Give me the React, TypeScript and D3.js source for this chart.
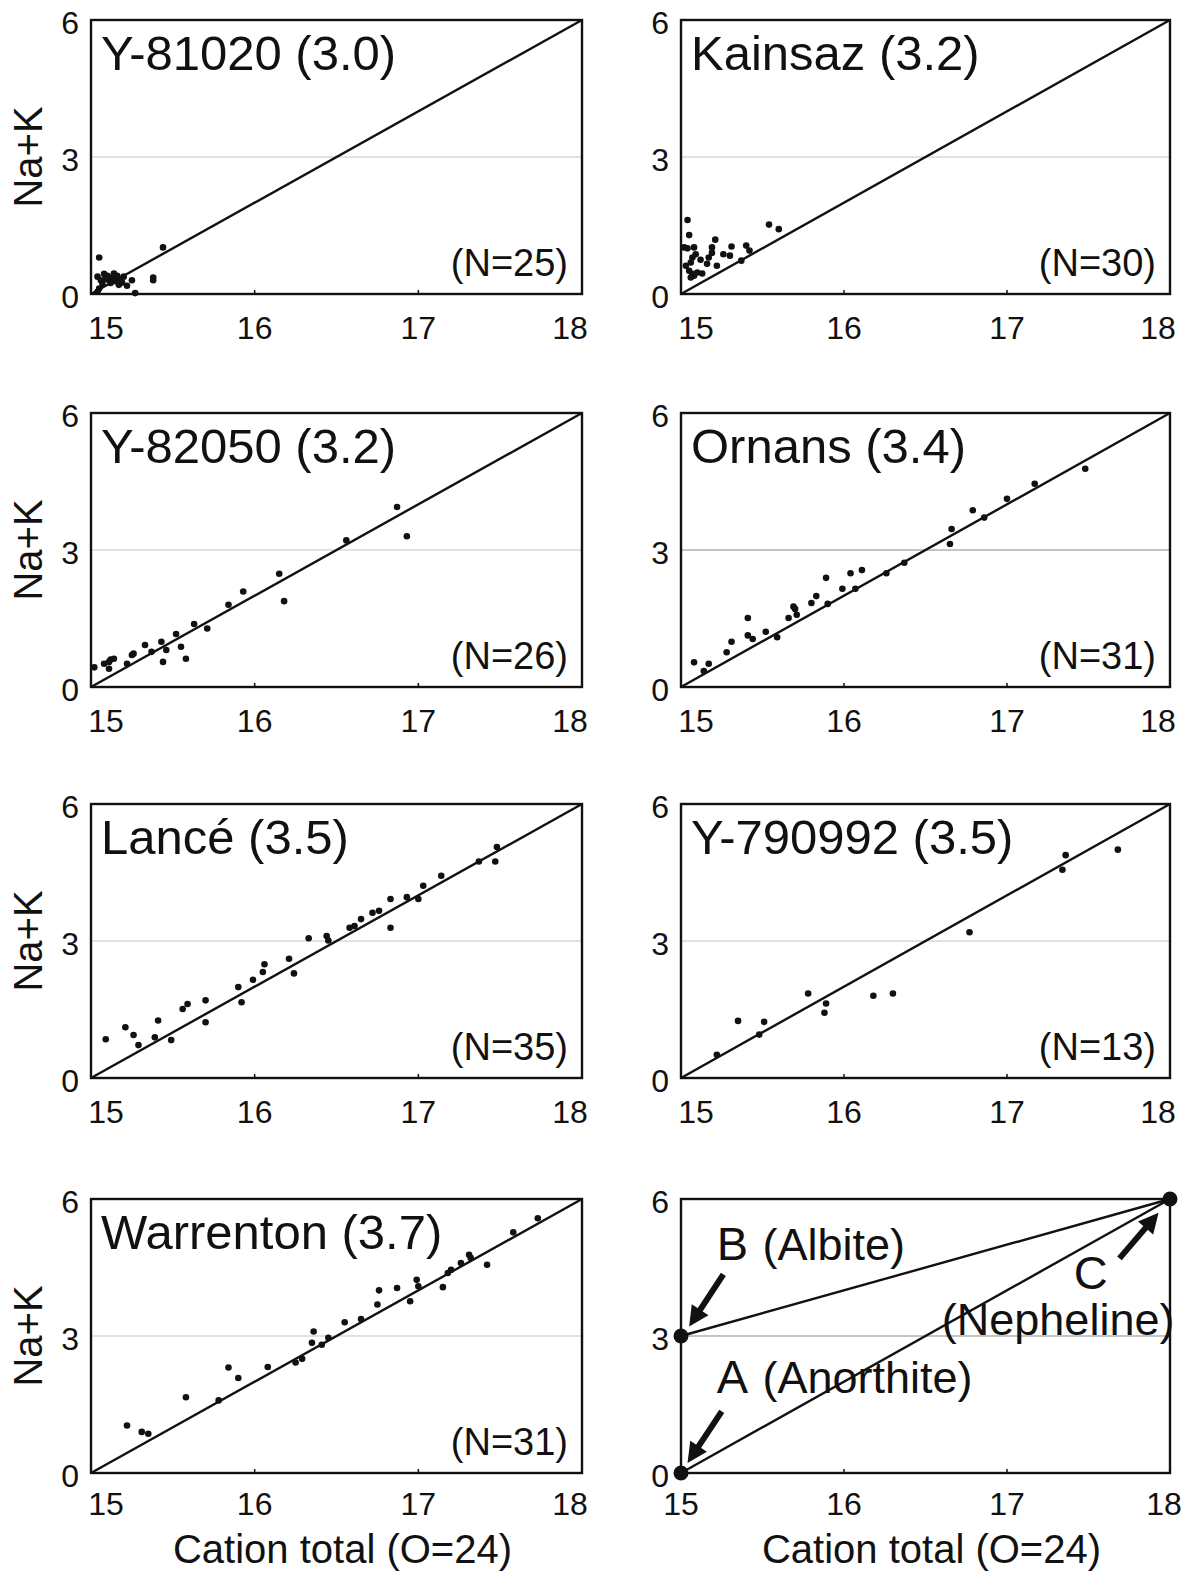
import React, { useRef, useEffect } from 'react';
import * as d3 from 'd3';

type Pt = [number, number];

// cation total (O=24) vs Na+K
const y81020: Pt[] = [
    [15.05, 0.8], [15.44, 1.02], [15.38, 0.3], [15.38, 0.36], [15.25, 0.3],
    [15.27, 0.02], [15.22, 0.18], [15.04, 0.38], [15.06, 0.3], [15.08, 0.44],
    [15.1, 0.4], [15.11, 0.3], [15.13, 0.36], [15.15, 0.28], [15.16, 0.4],
    [15.18, 0.33], [15.19, 0.25], [15.07, 0.22], [15.05, 0.12], [15.04, 0.05],
    [15.12, 0.24], [15.09, 0.33], [15.17, 0.2], [15.14, 0.45], [15.2, 0.38],
];
const kainsaz: Pt[] = [
    [15.04, 1.62], [15.05, 1.29], [15.02, 1.02], [15.04, 1.0], [15.08, 1.02],
    [15.09, 0.87], [15.07, 0.8], [15.03, 0.62], [15.06, 0.69], [15.05, 0.51],
    [15.07, 0.44], [15.08, 0.4], [15.1, 0.47], [15.13, 0.45], [15.06, 0.36],
    [15.16, 0.66], [15.17, 0.8], [15.19, 1.02], [15.21, 1.19], [15.22, 0.62],
    [15.26, 0.87], [15.3, 0.84], [15.31, 1.04], [15.37, 0.73], [15.4, 1.06],
    [15.42, 0.95], [15.54, 1.52], [15.6, 1.42], [15.19, 0.9], [15.12, 0.75],
];
const y82050: Pt[] = [
    [15.02, 0.43], [15.11, 0.55], [15.12, 0.6], [15.14, 0.62], [15.11, 0.4],
    [15.08, 0.51], [15.22, 0.51], [15.25, 0.7], [15.26, 0.73], [15.33, 0.92],
    [15.37, 0.77], [15.43, 0.99], [15.44, 0.55], [15.46, 0.81], [15.52, 1.16],
    [15.55, 0.88], [15.58, 0.62], [15.63, 1.38], [15.71, 1.28], [15.84, 1.8],
    [15.93, 2.09], [16.15, 2.48], [16.18, 1.88], [16.56, 3.21], [16.87, 3.94],
    [16.93, 3.3],
];
const ornans: Pt[] = [
    [15.08, 0.54], [15.14, 0.35], [15.17, 0.51], [15.28, 0.76], [15.31, 0.99],
    [15.41, 1.51], [15.41, 1.13], [15.44, 1.05], [15.52, 1.21], [15.59, 1.09],
    [15.66, 1.51], [15.69, 1.76], [15.7, 1.71], [15.71, 1.58], [15.8, 1.84],
    [15.83, 1.99], [15.89, 2.39], [15.9, 1.82], [15.99, 2.15], [16.04, 2.49],
    [16.07, 2.15], [16.11, 2.56], [16.26, 2.49], [16.37, 2.72], [16.65, 3.13],
    [16.66, 3.46], [16.79, 3.87], [16.86, 3.71], [17.0, 4.12], [17.17, 4.45],
    [17.48, 4.78],
];
const lance: Pt[] = [
    [15.09, 0.85], [15.21, 1.11], [15.26, 0.94], [15.29, 0.72], [15.39, 0.89],
    [15.41, 1.26], [15.49, 0.83], [15.56, 1.51], [15.59, 1.62], [15.7, 1.7],
    [15.7, 1.22], [15.9, 1.99], [15.92, 1.66], [15.99, 2.15], [16.05, 2.32],
    [16.06, 2.49], [16.21, 2.61], [16.24, 2.29], [16.33, 3.06], [16.44, 3.11],
    [16.45, 3.01], [16.58, 3.29], [16.61, 3.33], [16.65, 3.48], [16.72, 3.62],
    [16.76, 3.66], [16.83, 3.92], [16.83, 3.29], [16.93, 3.96], [17.0, 3.92],
    [17.03, 4.21], [17.14, 4.43], [17.37, 4.74], [17.47, 4.74], [17.48, 5.06],
];
const y790992: Pt[] = [
    [15.22, 0.51], [15.35, 1.25], [15.48, 0.95], [15.51, 1.23], [15.78, 1.85],
    [15.89, 1.63], [15.88, 1.43], [16.18, 1.8], [16.3, 1.85], [16.77, 3.19],
    [17.34, 4.56], [17.36, 4.88], [17.68, 5.0],
];
const warrenton: Pt[] = [
    [15.22, 1.04], [15.31, 0.9], [15.35, 0.86], [15.58, 1.66], [15.78, 1.59],
    [15.84, 2.31], [15.9, 2.08], [16.08, 2.32], [16.25, 2.42], [16.29, 2.5],
    [16.36, 3.1], [16.35, 2.85], [16.41, 2.81], [16.45, 2.96], [16.55, 3.3],
    [16.65, 3.37], [16.76, 4.0], [16.75, 3.69], [16.87, 4.05], [16.95, 3.76],
    [16.99, 4.23], [17.0, 4.09], [17.15, 4.07], [17.18, 4.38], [17.2, 4.45],
    [17.26, 4.6], [17.31, 4.78], [17.32, 4.71], [17.42, 4.56], [17.58, 5.27],
    [17.73, 5.58],
];

const panelTitles = [
    'Y-81020 (3.0)', 'Kainsaz (3.2)', 'Y-82050 (3.2)', 'Ornans (3.4)',
    'Lancé (3.5)', 'Y-790992 (3.5)', 'Warrenton (3.7)',
];
const panelData = [y81020, kainsaz, y82050, ornans, lance, y790992, warrenton];

const xTicks = [15, 16, 17, 18];
const yTicks = [0, 3, 6];

// end members for the last panel
const endLetters = ['A', 'B', 'C'];
const endNames = ['(Anorthite)', '(Albite)', '(Nepheline)'];
const endX = [15, 15, 18];
const endY = [0, 3, 6];
// where the labels sit (data units) and the arrows (tail -> head)
const letterPos: Pt[] = [[15.22, 1.75], [15.22, 4.67], [17.41, 4.04]];
const namePos: Pt[] = [[15.5, 1.75], [15.5, 4.67], [16.6, 3.03]];
const arrowTail: Pt[] = [[15.25, 1.35], [15.26, 4.35], [17.69, 4.7]];
const arrowHead: Pt[] = [[15.04, 0.22], [15.05, 3.21], [17.93, 5.7]];

const FONT = '"Liberation Sans", Arial, sans-serif';
const INK = '#111';

export default function App() {
    const svgRef = useRef<SVGSVGElement>(null);

    const width = 1188;
    const height = 1574;
    const colX = [91, 681];
    const colW = [491, 489];
    const rowY = [20, 413, 804, 1199];
    const boxH = 274;

    useEffect(() => {
        const svg = d3.select(svgRef.current);
        svg.selectAll('*').remove(); // Clear previous content

        svg.append('rect').attr('width', width).attr('height', height).attr('fill', '#fff');

        for (let i = 0; i < 8; i++) {
            const col = i % 2;
            const row = Math.floor(i / 2);
            const w = colW[col];
            const x = d3.scaleLinear().domain([15, 18]).range([0, w]);
            const y = d3.scaleLinear().domain([0, 6]).range([boxH, 0]);
            const g = svg.append('g').attr('transform', `translate(${colX[col]},${rowY[row]})`);
            const last = i === 7;

            // y = 3 guide
            g.append('line')
                .attr('x1', 0).attr('x2', w)
                .attr('y1', y(3)).attr('y2', y(3))
                .attr('stroke', i === 3 || last ? '#8a8a8a' : '#c4c4c4')
                .attr('stroke-width', 1.2);

            // tick marks inside the bottom edge
            g.selectAll('line.tick')
                .data(xTicks.slice(1, -1))
                .enter()
                .append('line')
                .attr('x1', d => x(d)).attr('x2', d => x(d))
                .attr('y1', boxH).attr('y2', boxH - 4)
                .attr('stroke', INK).attr('stroke-width', 1.5);

            const line = d3.line<Pt>().x(d => x(d[0])).y(d => y(d[1]));
            g.append('path')
                .attr('d', line([[15, 0], [18, 6]]))
                .attr('stroke', INK).attr('stroke-width', 2.4).attr('fill', 'none');

            if (!last) {
                g.selectAll('circle')
                    .data(panelData[i])
                    .enter()
                    .append('circle')
                    .attr('cx', d => x(d[0]))
                    .attr('cy', d => y(d[1]))
                    .attr('r', 3.3)
                    .attr('fill', INK);

                g.append('text')
                    .attr('x', 10).attr('y', 50)
                    .attr('font-size', 49)
                    .text(panelTitles[i]);

                g.append('text')
                    .attr('x', w - 14).attr('y', boxH - 18)
                    .attr('text-anchor', 'end')
                    .attr('font-size', 38)
                    .text(`(N=${panelData[i].length})`);
            } else {
                g.append('path')
                    .attr('d', line([[15, 3], [18, 6]]))
                    .attr('stroke', INK).attr('stroke-width', 2.4).attr('fill', 'none');

                endLetters.forEach((k, j) => {
                    g.append('text')
                        .attr('x', x(letterPos[j][0])).attr('y', y(letterPos[j][1]))
                        .attr('font-size', 47)
                        .text(k);
                    g.append('text')
                        .attr('x', x(namePos[j][0])).attr('y', y(namePos[j][1]))
                        .attr('font-size', 45)
                        .text(endNames[j]);

                    // arrow
                    const tx = x(arrowTail[j][0]), ty = y(arrowTail[j][1]);
                    const hx = x(arrowHead[j][0]), hy = y(arrowHead[j][1]);
                    const len = Math.hypot(hx - tx, hy - ty);
                    const ux = (hx - tx) / len, uy = (hy - ty) / len;
                    const nx = -uy, ny = ux;
                    const hl = 20, hw = 10;
                    g.append('line')
                        .attr('x1', tx).attr('y1', ty)
                        .attr('x2', hx - ux * hl * 0.8).attr('y2', hy - uy * hl * 0.8)
                        .attr('stroke', INK).attr('stroke-width', 6);
                    g.append('path')
                        .attr('d', `M${hx},${hy}L${hx - ux * hl + nx * hw},${hy - uy * hl + ny * hw}L${hx - ux * hl - nx * hw},${hy - uy * hl - ny * hw}Z`)
                        .attr('fill', INK);
                });

                g.selectAll('circle')
                    .data(endX.map((d, j) => [d, endY[j]] as Pt))
                    .enter()
                    .append('circle')
                    .attr('cx', d => x(d[0]))
                    .attr('cy', d => y(d[1]))
                    .attr('r', 7.5)
                    .attr('fill', INK);
            }

            // frame
            g.append('rect')
                .attr('width', w).attr('height', boxH)
                .attr('fill', 'none').attr('stroke', INK).attr('stroke-width', 2.4);

            // y tick labels
            g.selectAll('text.yt')
                .data(yTicks)
                .enter()
                .append('text')
                .attr('x', -12)
                .attr('y', d => y(d) + 14)
                .attr('text-anchor', 'end')
                .attr('font-size', 32)
                .text(d => d);

            // x tick labels (edge labels pulled inward like the original)
            const shiftL = last ? 0 : 15;
            const shiftR = last ? -6 : -12;
            g.selectAll('text.xt')
                .data(xTicks)
                .enter()
                .append('text')
                .attr('x', (d, k) => x(d) + (k === 0 ? shiftL : k === xTicks.length - 1 ? shiftR : 0))
                .attr('y', boxH + (row === 3 ? 42 : 45))
                .attr('text-anchor', 'middle')
                .attr('font-size', 32)
                .text(d => d);

            if (col === 0) {
                g.append('text')
                    .attr('transform', `translate(${42 - colX[0]},${boxH / 2}) rotate(-90)`)
                    .attr('text-anchor', 'middle')
                    .attr('font-size', 40)
                    .text('Na+K');
            }
            if (row === 3) {
                g.append('text')
                    .attr('x', w / 2 + 6).attr('y', 1563 - rowY[3])
                    .attr('text-anchor', 'middle')
                    .attr('font-size', 40)
                    .text('Cation total (O=24)');
            }
        }

        svg.selectAll('text').attr('font-family', FONT).attr('fill', INK);
    }, []);

    return (
        <svg
            ref={svgRef}
            width={width}
            height={height}
            style={{ position: 'absolute', left: 0, top: 0 }}
        ></svg>
    );
}
